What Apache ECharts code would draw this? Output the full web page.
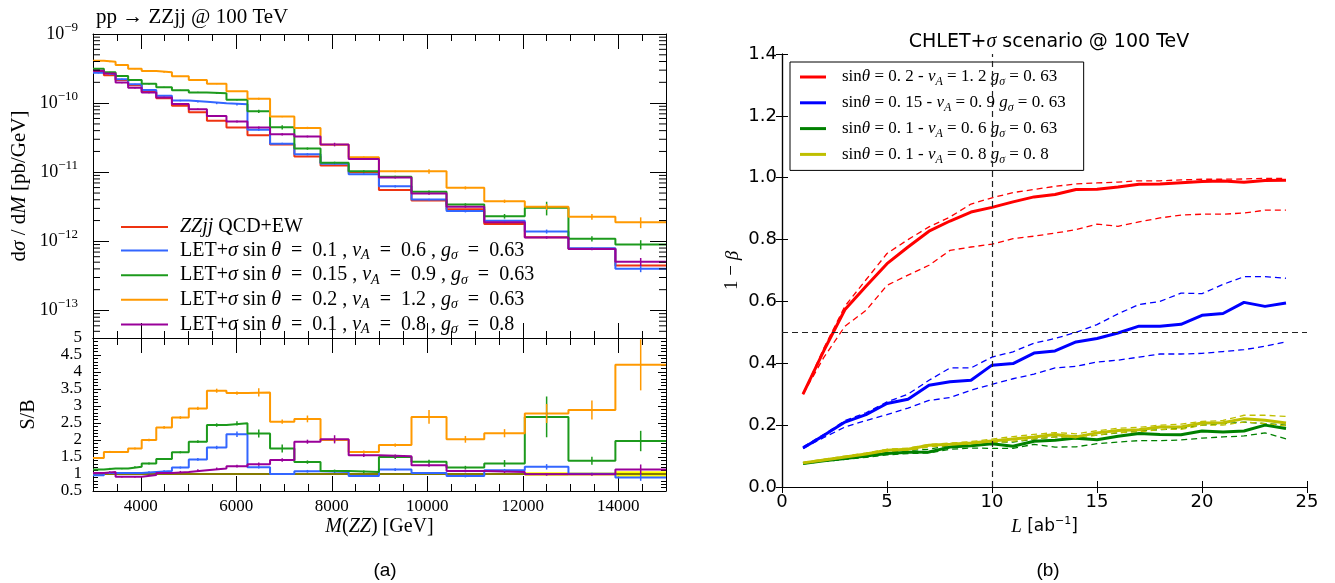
<!DOCTYPE html>
<html><head><meta charset="utf-8">
<script src="https://cdn.jsdelivr.net/npm/echarts@6/dist/echarts.min.js"></script>
<style>html,body{margin:0;padding:0;background:#fff}#c{width:1335px;height:583px}</style>
</head><body><div id="c"></div>
<script>
// ---------------- data: panel (a) ----------------
const BIN_EDGES = [3000, 3228, 3473, 3736, 4020, 4325, 4653, 5006, 5386, 5795, 6235, 6708, 7217, 7765, 8354, 8988, 9670, 10404, 11194, 12043, 12957, 13940, 15000];
const XS_QCD_EW = [2.85e-10, 2.54e-10, 2.16e-10, 1.82e-10, 1.46e-10, 1.18e-10, 9.2e-11, 7.36e-11, 5.58e-11, 4.43e-11, 3.43e-11, 2.51e-11, 1.69e-11, 1.25e-11, 1.0e-11, 5.53e-12, 3.90e-12, 2.92e-12, 1.78e-12, 1.15e-12, 7.84e-13, 4.48e-13];
const XS_BLUE = [2.74e-10, 2.62e-10, 2.22e-10, 1.87e-10, 1.55e-10, 1.28e-10, 1.09e-10, 1.05e-10, 9.93e-11, 9.61e-11, 4.11e-11, 2.59e-11, 1.82e-11, 1.33e-11, 9.39e-12, 6.25e-12, 4.02e-12, 2.74e-12, 1.98e-12, 1.39e-12, 7.92e-13, 4.03e-13];
const XS_GREEN = [3.15e-10, 2.79e-10, 2.47e-10, 2.16e-10, 1.91e-10, 1.69e-10, 1.53e-10, 1.43e-10, 1.39e-10, 1.12e-10, 7.61e-11, 4.47e-11, 2.20e-11, 1.37e-11, 1.03e-11, 8.58e-12, 5.21e-12, 3.41e-12, 2.31e-12, 3.06e-12, 1.09e-12, 9.02e-13];
const XS_ORANGE = [4.11e-10, 3.98e-10, 3.56e-10, 3.15e-10, 2.92e-10, 2.79e-10, 2.44e-10, 2.16e-10, 1.91e-10, 1.48e-10, 1.16e-10, 6.38e-11, 4.38e-11, 2.49e-11, 1.65e-11, 1.03e-11, 1.03e-11, 5.95e-12, 3.81e-12, 3.16e-12, 2.27e-12, 1.89e-12];
const XS_PURPLE = [2.94e-10, 2.69e-10, 1.98e-10, 1.67e-10, 1.42e-10, 1.21e-10, 9.75e-11, 8.16e-11, 6.49e-11, 5.44e-11, 4.43e-11, 3.54e-11, 3.29e-11, 2.52e-11, 1.55e-11, 8.41e-12, 4.92e-12, 3.18e-12, 1.89e-12, 1.14e-12, 7.77e-13, 5.07e-13];

const SB_REF = [1,1,1,1,1,1,1,1,1,1,1,1,1,1,1,1,1,1,1,1,1,1];
const SB_REF_ERR = [0.01,0.01,0.01,0.01,0.01,0.01,0.01,0.01,0.01,0.01,0.01,0.01,0.01,0.01,0.01,0.01,0.015,0.015,0.02,0.05,0.045,0.08];
const SB_BLUE = [0.96,1.03,1.03,1.03,1.06,1.09,1.19,1.43,1.78,2.17,1.2,1.0,1.08,1.06,0.94,1.13,1.03,0.94,1.11,1.21,1.01,0.9];
const SB_GREEN = [1.13,1.16,1.16,1.21,1.31,1.44,1.64,1.95,2.44,2.49,2.19,1.75,1.35,1.09,1.06,1.5,1.36,1.19,1.31,2.68,1.39,1.97];
const SB_ORANGE = [1.47,1.65,1.65,1.75,2.0,2.37,2.66,2.93,3.45,3.38,3.4,2.54,2.62,2.0,1.65,1.85,2.68,2.02,2.2,2.78,2.88,4.21];
const SB_PURPLE = [1.03,1.06,0.92,0.92,0.97,1.03,1.06,1.11,1.16,1.23,1.29,1.41,1.95,2.02,1.55,1.52,1.26,1.09,1.06,0.99,0.99,1.13];
const SB_ERR_BLUE = [0.02,0.02,0.02,0.02,0.02,0.02,0.03,0.04,0.05,0.08,0.04,0.03,0.04,0.03,0.03,0.04,0.03,0.04,0.04,0.08,0.03,0.1];
const SB_ERR_GREEN = [0.02,0.02,0.02,0.02,0.03,0.03,0.03,0.04,0.05,0.06,0.12,0.12,0.05,0.04,0.04,0.06,0.06,0.05,0.1,0.6,0.12,0.3];
const SB_ERR_ORANGE = [0.03,0.03,0.03,0.03,0.04,0.04,0.04,0.05,0.06,0.05,0.12,0.06,0.1,0.06,0.04,0.05,0.2,0.1,0.12,0.28,0.28,0.75];
const SB_ERR_PURPLE = [0.02,0.02,0.02,0.02,0.02,0.02,0.03,0.03,0.03,0.04,0.05,0.05,0.06,0.12,0.05,0.05,0.05,0.04,0.03,0.04,0.04,0.15];

const LEFT_NAMES = ['ZZjj QCD+EW', 'LET+σ sinθ=0.1, vA=0.6, gσ=0.63', 'LET+σ sinθ=0.15, vA=0.9, gσ=0.63', 'LET+σ sinθ=0.2, vA=1.2, gσ=0.63', 'LET+σ sinθ=0.1, vA=0.8, gσ=0.8'];
const LEFT_RICH = ['{i|ZZjj} QCD+EW',
  'LET+{i|σ} sin {i|θ}  =  0.1 , {i|v}{sub|A}  =  0.6 , {i|g}{sub|σ}  =  0.63',
  'LET+{i|σ} sin {i|θ}  =  0.15 , {i|v}{sub|A}  =  0.9 , {i|g}{sub|σ}  =  0.63',
  'LET+{i|σ} sin {i|θ}  =  0.2 , {i|v}{sub|A}  =  1.2 , {i|g}{sub|σ}  =  0.63',
  'LET+{i|σ} sin {i|θ}  =  0.1 , {i|v}{sub|A}  =  0.8 , {i|g}{sub|σ}  =  0.8'];
const X_LABELS_A = [4000, 6000, 8000, 10000, 12000, 14000];

// ---------------- data: panel (b) ----------------
const LUMI = [1,2,3,4,5,6,7,8,9,10,11,12,13,14,15,16,17,18,19,20,21,22,23,24];
const RED_MID = [0.30,0.442,0.574,0.649,0.722,0.776,0.827,0.86,0.889,0.904,0.922,0.938,0.946,0.962,0.963,0.97,0.979,0.98,0.984,0.988,0.989,0.985,0.991,0.992];
const RED_HI = [0.30,0.45,0.585,0.67,0.755,0.80,0.841,0.873,0.915,0.935,0.952,0.962,0.972,0.98,0.983,0.986,0.99,0.99,0.993,0.995,0.995,0.996,0.998,0.998];
const RED_LO = [0.30,0.42,0.52,0.571,0.652,0.685,0.717,0.765,0.776,0.785,0.803,0.811,0.821,0.832,0.85,0.843,0.857,0.87,0.879,0.882,0.882,0.886,0.895,0.895];
const BLUE_MID = [0.126,0.167,0.21,0.234,0.27,0.284,0.329,0.34,0.345,0.394,0.399,0.433,0.44,0.469,0.48,0.498,0.52,0.52,0.526,0.555,0.561,0.597,0.584,0.595];
const BLUE_HI = [0.13,0.17,0.215,0.24,0.275,0.30,0.345,0.385,0.385,0.42,0.437,0.465,0.48,0.50,0.525,0.56,0.59,0.60,0.627,0.625,0.655,0.68,0.68,0.675];
const BLUE_LO = [0.125,0.16,0.194,0.215,0.234,0.255,0.28,0.289,0.313,0.332,0.35,0.365,0.385,0.39,0.404,0.41,0.42,0.43,0.43,0.432,0.438,0.444,0.455,0.469];
const GREEN_MID = [0.076,0.085,0.092,0.1,0.108,0.112,0.113,0.129,0.133,0.14,0.132,0.148,0.151,0.158,0.153,0.164,0.173,0.17,0.169,0.181,0.178,0.181,0.2,0.189];
const GREEN_HI = [0.077,0.087,0.095,0.104,0.112,0.118,0.122,0.134,0.14,0.147,0.145,0.155,0.162,0.165,0.168,0.175,0.182,0.185,0.19,0.2,0.205,0.21,0.205,0.2];
const GREEN_LO = [0.075,0.083,0.089,0.096,0.104,0.108,0.11,0.122,0.126,0.125,0.125,0.138,0.129,0.13,0.14,0.145,0.15,0.15,0.152,0.158,0.162,0.165,0.175,0.156];
const YEL_MID = [0.078,0.087,0.097,0.107,0.119,0.122,0.135,0.138,0.142,0.149,0.155,0.162,0.17,0.162,0.175,0.183,0.185,0.194,0.194,0.207,0.208,0.221,0.216,0.207];
const YEL_HI = [0.079,0.09,0.1,0.11,0.122,0.126,0.138,0.142,0.147,0.155,0.163,0.17,0.176,0.172,0.182,0.19,0.193,0.2,0.203,0.212,0.215,0.232,0.232,0.228];
const YEL_LO = [0.077,0.085,0.094,0.104,0.115,0.118,0.13,0.134,0.137,0.143,0.148,0.155,0.162,0.155,0.168,0.176,0.178,0.186,0.186,0.2,0.2,0.21,0.205,0.198];
const REF_L = 10, REF_POWER = 0.5;
const RIGHT_NAMES = ['sinθ=0.2 - vA=1.2 gσ=0.63', 'sinθ=0.15 - vA=0.9 gσ=0.63', 'sinθ=0.1 - vA=0.6 gσ=0.63', 'sinθ=0.1 - vA=0.8 gσ=0.8'];
const RIGHT_RICH = ['sin{i|θ} = 0. 2 - {i|v}{sub|A} = 1. 2 {i|g}{sub|σ} = 0. 63',
  'sin{i|θ} = 0. 15 - {i|v}{sub|A} = 0. 9 {i|g}{sub|σ} = 0. 63',
  'sin{i|θ} = 0. 1 - {i|v}{sub|A} = 0. 6 {i|g}{sub|σ} = 0. 63',
  'sin{i|θ} = 0. 1 - {i|v}{sub|A} = 0. 8 {i|g}{sub|σ} = 0. 8'];

// ---------------- helpers ----------------
const TSERIF = 'Liberation Serif';
const SANS = 'DejaVu Sans';
const LCOL = ['#ee3311', '#3366ff', '#1c9a1c', '#ff9900', '#990099'];
const RCOL = ['#ff0000', '#0000ff', '#008000', '#bfbf00'];
const X0 = BIN_EDGES[0], X1 = BIN_EDGES[BIN_EDGES.length - 1];

function stepData(vals) {
  const d = vals.map((v, i) => [BIN_EDGES[i], v]);
  d.push([BIN_EDGES[vals.length], vals[vals.length - 1]]);
  return d;
}
function centers() { return BIN_EDGES.slice(0, -1).map((e, i) => (e + BIN_EDGES[i + 1]) / 2); }
const LOG_MINOR = [];
for (let p = -14; p <= -10; p++) for (let m = 2; m <= 9; m++) { const v = m * Math.pow(10, p); if (v > 4.05e-14 && v < 1e-9) LOG_MINOR.push(v); }

function errSeries(xi, yi, vals, errs, color, relative) {
  const c = centers();
  return {
    type: 'custom', xAxisIndex: xi, yAxisIndex: yi, silent: true, z: 3,
    data: vals.map((v, i) => [c[i], v, relative ? errs[i] / relative[i] : errs[i]]),
    renderItem: function (params, api) {
      const x = api.value(0), y = api.value(1), e = api.value(2);
      const lo = relative ? y * (1 - e) : y - e, hi = relative ? y * (1 + e) : y + e;
      const p1 = api.coord([x, lo]), p2 = api.coord([x, hi]);
      return { type: 'line', shape: { x1: p1[0], y1: p1[1], x2: p2[0], y2: p2[1] }, style: { stroke: color, lineWidth: 1.5 } };
    }
  };
}
function stepSeries(name, xi, yi, vals, color, z) {
  return { name: name, type: 'line', xAxisIndex: xi, yAxisIndex: yi, step: 'end', symbol: 'none', z: z || 2,
    data: stepData(vals), lineStyle: { color: color, width: 2 }, itemStyle: { color: color }, emphasis: { disabled: true } };
}

const axLine = { show: true, lineStyle: { color: '#000', width: 1 } };
function xMain(grid, pos, labels, name) {
  return { type: 'value', gridIndex: grid, position: pos, min: X0, max: X1, splitLine: { show: false },
    axisLine: axLine, axisTick: { show: true, inside: true, length: 15, customValues: X_LABELS_A, lineStyle: { color: '#000' } },
    axisLabel: labels ? { show: true, customValues: X_LABELS_A, margin: 7, fontFamily: TSERIF, fontSize: 17, color: '#000', formatter: v => String(v) } : { show: false },
    name: name || '', nameLocation: 'middle', nameGap: 26,
    nameTextStyle: { fontFamily: TSERIF, fontSize: 20, color: '#000', rich: { i: { fontFamily: TSERIF, fontStyle: 'italic', fontSize: 20 } } } };
}
function xMinor(grid, pos) {
  return { type: 'value', gridIndex: grid, position: pos, min: X0, max: X1, interval: 500, splitLine: { show: false },
    axisLine: { show: false }, axisTick: { show: true, inside: true, length: 7, lineStyle: { color: '#000' } }, axisLabel: { show: false } };
}

const option = {
  animation: false,
  backgroundColor: '#fff',
  title: [
    { text: 'pp → ZZjj @ 100 TeV', left: 91, top: 2, textStyle: { fontFamily: TSERIF, fontSize: 21, fontWeight: 'normal', color: '#000' } },
    { text: 'CHLET+{i|σ} scenario @ 100 TeV', left: 1044, top: 27, textAlign: 'center',
      textStyle: { fontFamily: SANS, fontSize: 19, fontWeight: 'normal', color: '#000', rich: { i: { fontFamily: TSERIF, fontStyle: 'italic', fontSize: 20 } } } },
    { text: '(a)', left: 380, top: 556, textAlign: 'center', textStyle: { fontFamily: 'Liberation Sans', fontSize: 19, fontWeight: 'normal', color: '#000' } },
    { text: '(b)', left: 1043, top: 556, textAlign: 'center', textStyle: { fontFamily: 'Liberation Sans', fontSize: 19, fontWeight: 'normal', color: '#000' } }
  ],
  legend: [
    { data: LEFT_NAMES, orient: 'vertical', left: 121, top: 216, itemWidth: 47, itemHeight: 2, itemGap: 0.6, icon: 'rect', padding: 0,
      selectedMode: false,
      formatter: n => LEFT_RICH[LEFT_NAMES.indexOf(n)],
      textStyle: { fontFamily: TSERIF, fontSize: 20, lineHeight: 22, color: '#000', padding: [0, 0, 0, 7],
        rich: { i: { fontFamily: TSERIF, fontStyle: 'italic', fontSize: 20, lineHeight: 22 },
                sub: { fontFamily: TSERIF, fontStyle: 'italic', fontSize: 14, lineHeight: 12, padding: [10, 0, 0, 0] } } } },
    { data: RIGHT_NAMES, orient: 'vertical', left: 790, top: 62, itemWidth: 26, itemHeight: 3, itemGap: 3.8, icon: 'rect',
      padding: [4, 18, 5, 10], borderColor: '#000', borderWidth: 1, backgroundColor: '#fff', selectedMode: false,
      formatter: n => RIGHT_RICH[RIGHT_NAMES.indexOf(n)],
      textStyle: { fontFamily: TSERIF, fontSize: 17, lineHeight: 22, color: '#000', padding: [0, 0, 0, 11],
        rich: { i: { fontFamily: TSERIF, fontStyle: 'italic', fontSize: 17, lineHeight: 22 },
                sub: { fontFamily: TSERIF, fontStyle: 'italic', fontSize: 12, lineHeight: 12, padding: [10, 0, 0, 0] } } } }
  ],
  grid: [
    { left: 93, top: 34, width: 573, height: 304, outerBoundsMode: 'none' },
    { left: 93, top: 338, width: 573, height: 153, outerBoundsMode: 'none' },
    { left: 782, top: 54, width: 525, height: 433, outerBoundsMode: 'none' }
  ],
  xAxis: [
    xMain(0, 'bottom', false), xMinor(0, 'bottom'), xMain(0, 'top', false), xMinor(0, 'top'),
    xMain(1, 'bottom', true, '{i|M}({i|ZZ}) [GeV]'), xMinor(1, 'bottom'), xMain(1, 'top', false), xMinor(1, 'top'),
    { type: 'value', gridIndex: 2, position: 'bottom', min: 0, max: 25, interval: 5, splitLine: { show: false },
      axisLine: { show: true, lineStyle: { color: '#000', width: 1.2 } }, axisTick: { show: true, inside: true, length: 6, lineStyle: { color: '#000' } },
      axisLabel: { margin: 6, fontFamily: SANS, fontSize: 18, color: '#000' },
      name: '{i|L} [ab{sup|−1}]', nameLocation: 'middle', nameGap: 25,
      nameTextStyle: { fontFamily: SANS, fontSize: 17, color: '#000', lineHeight: 22,
        rich: { i: { fontFamily: TSERIF, fontStyle: 'italic', fontSize: 19, lineHeight: 22 }, sup: { fontFamily: SANS, fontSize: 11, lineHeight: 10, padding: [0, 0, 11, 0] } } } },
    { type: 'value', gridIndex: 2, position: 'top', min: 0, max: 25, interval: 5, splitLine: { show: false },
      axisLine: { show: true, lineStyle: { color: '#000', width: 1.2 } }, axisTick: { show: true, inside: true, length: 6, lineStyle: { color: '#000' } }, axisLabel: { show: false } }
  ],
  yAxis: [
    { type: 'log', logBase: 10, gridIndex: 0, position: 'left', min: 4e-14, max: 1e-9, splitLine: { show: false },
      axisLine: axLine, axisTick: { show: true, inside: true, length: 16, lineStyle: { color: '#000' } },
      axisLabel: { showMinLabel: false, margin: 15, fontFamily: TSERIF, fontSize: 18, color: '#000',
        formatter: v => '10{sup|−' + Math.round(-Math.log10(v)) + '}',
        rich: { sup: { fontFamily: TSERIF, fontSize: 13, lineHeight: 10, padding: [0, 0, 13, 0] } } },
      name: 'd{i|σ} / d{i|M} [pb/GeV]', nameLocation: 'middle', nameGap: 63, nameRotate: 90,
      nameTextStyle: { fontFamily: TSERIF, fontSize: 21, color: '#000', rich: { i: { fontFamily: TSERIF, fontStyle: 'italic', fontSize: 21 } } } },
    { type: 'log', logBase: 10, gridIndex: 0, position: 'right', min: 4e-14, max: 1e-9, splitLine: { show: false },
      axisLine: axLine, axisTick: { show: true, inside: true, length: 16, lineStyle: { color: '#000' } }, axisLabel: { show: false } },
    { type: 'value', gridIndex: 1, position: 'left', min: 0.5, max: 5, interval: 0.5, splitLine: { show: false },
      axisLine: axLine, axisTick: { show: true, inside: true, length: 8, lineStyle: { color: '#000' } },
      minorTick: { show: true, splitNumber: 5, length: 5, lineStyle: { color: '#000' } },
      axisLabel: { margin: 11, fontFamily: TSERIF, fontSize: 17, color: '#000' },
      name: 'S/B', nameLocation: 'middle', nameGap: 54, nameRotate: 90,
      nameTextStyle: { fontFamily: TSERIF, fontSize: 20, color: '#000' } },
    { type: 'value', gridIndex: 1, position: 'right', min: 0.5, max: 5, interval: 0.5, splitLine: { show: false },
      axisLine: axLine, axisTick: { show: true, inside: true, length: 8, lineStyle: { color: '#000' } },
      minorTick: { show: true, splitNumber: 5, length: 5, lineStyle: { color: '#000' } }, axisLabel: { show: false } },
    { type: 'value', gridIndex: 2, position: 'left', min: 0, max: 1.4, interval: 0.2, splitLine: { show: false },
      axisLine: { show: true, lineStyle: { color: '#000', width: 1.2 } }, axisTick: { show: true, inside: true, length: 6, lineStyle: { color: '#000' } },
      axisLabel: { margin: 5, fontFamily: SANS, fontSize: 18, color: '#000', formatter: v => v.toFixed(1) },
      name: '1 − {i|β}', nameLocation: 'middle', nameGap: 40, nameRotate: 90,
      nameTextStyle: { fontFamily: TSERIF, fontSize: 19, color: '#000', rich: { i: { fontFamily: TSERIF, fontStyle: 'italic', fontSize: 19 } } } },
    { type: 'value', gridIndex: 2, position: 'right', min: 0, max: 1.4, interval: 0.2, splitLine: { show: false },
      axisLine: { show: true, lineStyle: { color: '#000', width: 1.2 } }, axisTick: { show: true, inside: true, length: 6, lineStyle: { color: '#000' } }, axisLabel: { show: false } }
  ],
  series: []
};

const S = option.series;
// log minor ticks (top panel, both sides)
S.push({ type: 'custom', xAxisIndex: 0, yAxisIndex: 0, silent: true, z: 5,
  data: LOG_MINOR.map(v => [X0, v]),
  renderItem: function (params, api) {
    const cs = params.coordSys; const y = api.coord([X0, api.value(1)])[1];
    return { type: 'group', children: [
      { type: 'line', shape: { x1: cs.x, y1: y, x2: cs.x + 7, y2: y }, style: { stroke: '#000', lineWidth: 1 } },
      { type: 'line', shape: { x1: cs.x + cs.width - 7, y1: y, x2: cs.x + cs.width, y2: y }, style: { stroke: '#000', lineWidth: 1 } } ] };
  } });

// top panel histograms
const XS = [XS_QCD_EW, XS_BLUE, XS_GREEN, XS_ORANGE, XS_PURPLE];
const SB = [SB_REF, SB_BLUE, SB_GREEN, SB_ORANGE, SB_PURPLE];
const SBE = [null, SB_ERR_BLUE, SB_ERR_GREEN, SB_ERR_ORANGE, SB_ERR_PURPLE];
XS.forEach((vals, k) => {
  S.push(stepSeries(LEFT_NAMES[k], 0, 0, vals, LCOL[k], 2 + k * 0.01));
  if (SBE[k]) S.push(errSeries(0, 0, vals, SBE[k], LCOL[k], SB[k]));
});

// ratio panel: reference band + line
S.push({ type: 'custom', xAxisIndex: 4, yAxisIndex: 2, silent: true, z: 1,
  data: BIN_EDGES.slice(0, -1).map((e, i) => [e, BIN_EDGES[i + 1], SB_REF_ERR[i]]),
  renderItem: function (params, api) {
    const a = api.coord([api.value(0), 1 + api.value(2)]), b = api.coord([api.value(1), 1 - api.value(2)]);
    return { type: 'rect', shape: { x: a[0], y: a[1], width: b[0] - a[0], height: Math.max(1, b[1] - a[1]) }, style: { fill: '#ffff00' } };
  } });
S.push({ name: 'ref-ratio', type: 'line', xAxisIndex: 4, yAxisIndex: 2, step: 'end', symbol: 'none', z: 2,
  data: stepData(SB_REF), lineStyle: { color: '#857a00', width: 2 } });
for (let k = 1; k < 5; k++) {
  S.push(stepSeries(LEFT_NAMES[k], 4, 2, SB[k], LCOL[k], 2 + k * 0.01));
  S.push(errSeries(4, 2, SB[k], SBE[k], LCOL[k], null));
}

// panel (b)
const RB = [[RED_MID, RED_HI, RED_LO], [BLUE_MID, BLUE_HI, BLUE_LO], [GREEN_MID, GREEN_HI, GREEN_LO], [YEL_MID, YEL_HI, YEL_LO]];
RB.forEach((grp, k) => {
  const s = { name: RIGHT_NAMES[k], type: 'line', xAxisIndex: 8, yAxisIndex: 4, symbol: 'none', z: 3,
    data: LUMI.map((l, i) => [l, grp[0][i]]), lineStyle: { color: RCOL[k], width: 3 }, itemStyle: { color: RCOL[k] } };
  if (k === 0) s.markLine = { silent: true, symbol: 'none', label: { show: false }, animation: false,
    lineStyle: { color: '#222', type: [6, 4], width: 1.2 }, data: [{ xAxis: REF_L }, { yAxis: REF_POWER }] };
  S.push(s);
  [1, 2].forEach(j => S.push({ type: 'line', xAxisIndex: 8, yAxisIndex: 4, symbol: 'none', z: 2,
    data: LUMI.map((l, i) => [l, grp[j][i]]), lineStyle: { color: RCOL[k], width: 1.3, type: [6, 4] } }));
});

const chart = echarts.init(document.getElementById('c'), null, { renderer: 'canvas' });
chart.setOption(option);
</script>
</body></html>
